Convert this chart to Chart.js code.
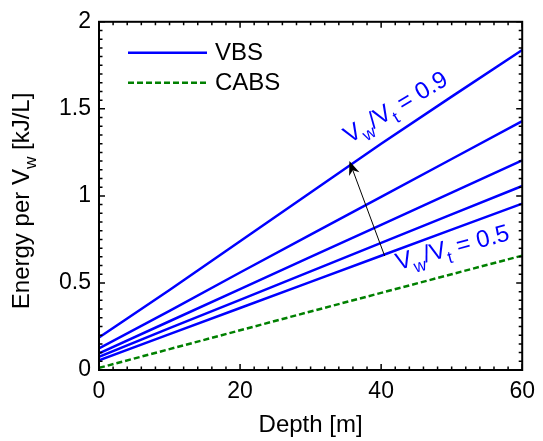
<!DOCTYPE html>
<html>
<head>
<meta charset="utf-8">
<script src="https://cdn.jsdelivr.net/npm/chart.js@4/dist/chart.umd.min.js"></script>
<style>
  body { margin: 0; background: #fff; }
  canvas { display: block; }
</style>
</head>
<body>
<canvas id="myChart" width="543" height="441"></canvas>
<script>
// values
var depth = [0, 10, 20, 30, 40, 50, 60]
var vbs05 = [0.056, 0.206, 0.356, 0.506, 0.656, 0.806, 0.956]
var vbs06 = [0.076, 0.240, 0.403, 0.567, 0.730, 0.894, 1.057]
var vbs07 = [0.095, 0.280, 0.465, 0.650, 0.834, 1.019, 1.204]
var vbs08 = [0.124, 0.340, 0.560, 0.777, 0.994, 1.212, 1.429]
var vbs09 = [0.187, 0.460, 0.740, 1.020, 1.300, 1.570, 1.838]
var cabs = [0.012, 0.120, 0.228, 0.336, 0.443, 0.550, 0.657]

var xTickValues = [0, 20, 40, 60]
var yTickValues = [0, 0.5, 1, 1.5, 2]
var legendNames = ['VBS', 'CABS']

// arrow and ratio labels, in data units
var arrowFrom = [40.5, 0.655]
var arrowTo = [35.5, 1.2]
var label09 = { at: [35.5, 1.30], value: '0.9', angle: -31 }
var label05 = { at: [42.4, 0.575], value: '0.5', angle: -15 }

var fam = "'Liberation Sans', Arial, Helvetica, sans-serif"
var blue = '#0000ff'
var green = '#008000'

function toPoints(ys) {
    var pts = []
    for (var i = 0; i < depth.length; i++) {
        pts.push({ x: depth[i], y: ys[i] })
    }
    return pts
}

function vbsSet(ys) {
    return { label: 'VBS', data: toPoints(ys), borderColor: blue, borderWidth: 2.5,
        pointRadius: 0, tension: 0, fill: false }
}

// draws text made of [string, isSubscript] parts
function richWidth(ctx, parts, size) {
    var w = 0
    parts.forEach(function (p) {
        ctx.font = (p[1] ? size * 0.72 : size) + 'px ' + fam
        w += ctx.measureText(p[0]).width
    })
    return w
}

function drawRich(ctx, parts, x, y, size, center) {
    var cx = center ? x - richWidth(ctx, parts, size) / 2 : x
    ctx.textAlign = 'left'
    ctx.textBaseline = 'alphabetic'
    parts.forEach(function (p) {
        ctx.font = (p[1] ? size * 0.72 : size) + 'px ' + fam
        ctx.fillText(p[0], cx, y + (p[1] ? size * 0.3 : 0))
        cx += ctx.measureText(p[0]).width
    })
}

var matlabDecor = {
    id: 'matlabDecor',
    afterDraw: function (chart) {
        var ctx = chart.ctx
        var a = chart.chartArea
        var xs = chart.scales.x
        var ys = chart.scales.y
        ctx.save()

        // inward ticks on all four sides
        ctx.strokeStyle = '#000'
        ctx.lineWidth = 1.5
        ctx.beginPath()
        for (var i = 0; i <= 30; i++) {
            var px = xs.getPixelForValue(i * 2)
            var len = i % 10 === 0 ? 6 : 3.5
            ctx.moveTo(px, a.bottom); ctx.lineTo(px, a.bottom - len)
            ctx.moveTo(px, a.top); ctx.lineTo(px, a.top + len)
        }
        for (var j = 0; j <= 40; j++) {
            var py = ys.getPixelForValue(j * 0.05)
            var len2 = j % 10 === 0 ? 6 : 3.5
            ctx.moveTo(a.left, py); ctx.lineTo(a.left + len2, py)
            ctx.moveTo(a.right, py); ctx.lineTo(a.right - len2, py)
        }
        ctx.stroke()

        // box
        ctx.lineWidth = 2
        ctx.strokeRect(a.left, a.top, a.right - a.left, a.bottom - a.top)

        // legend
        var sets = [chart.data.datasets[0], chart.data.datasets[5]]
        for (var k = 0; k < sets.length; k++) {
            var ly = a.top + 31 + k * 30
            ctx.beginPath()
            ctx.strokeStyle = sets[k].borderColor
            ctx.lineWidth = 2.5
            ctx.setLineDash(sets[k].borderDash || [])
            ctx.moveTo(a.left + 29, ly)
            ctx.lineTo(a.left + 108, ly)
            ctx.stroke()
            ctx.setLineDash([])
            ctx.fillStyle = '#000'
            ctx.font = '24px ' + fam
            ctx.textAlign = 'left'
            ctx.textBaseline = 'middle'
            ctx.fillText(legendNames[k], a.left + 116, ly + 1)
        }

        // ratio labels
        ctx.fillStyle = blue
        ;[label09, label05].forEach(function (lb) {
            ctx.save()
            ctx.translate(xs.getPixelForValue(lb.at[0]), ys.getPixelForValue(lb.at[1]))
            ctx.rotate(lb.angle * Math.PI / 180)
            drawRich(ctx, [['V', false], ['w', true], ['/V', false], ['t', true], [' = ' + lb.value, false]], 0, 0, 24, false)
            ctx.restore()
        })

        // arrow
        var x0 = xs.getPixelForValue(arrowFrom[0]), y0 = ys.getPixelForValue(arrowFrom[1])
        var x1 = xs.getPixelForValue(arrowTo[0]), y1 = ys.getPixelForValue(arrowTo[1])
        var ang = Math.atan2(y1 - y0, x1 - x0)
        var hl = 14, hw = 5.5
        ctx.strokeStyle = '#000'
        ctx.fillStyle = '#000'
        ctx.lineWidth = 1
        ctx.beginPath()
        ctx.moveTo(x0, y0)
        ctx.lineTo(x1 - Math.cos(ang) * hl * 0.7, y1 - Math.sin(ang) * hl * 0.7)
        ctx.stroke()
        ctx.beginPath()
        ctx.moveTo(x1, y1)
        ctx.lineTo(x1 - Math.cos(ang) * hl - Math.sin(ang) * hw, y1 - Math.sin(ang) * hl + Math.cos(ang) * hw)
        ctx.lineTo(x1 - Math.cos(ang) * hl * 0.7, y1 - Math.sin(ang) * hl * 0.7)
        ctx.lineTo(x1 - Math.cos(ang) * hl + Math.sin(ang) * hw, y1 - Math.sin(ang) * hl - Math.cos(ang) * hw)
        ctx.closePath()
        ctx.fill()

        // y axis title with subscript
        ctx.fillStyle = '#000'
        ctx.save()
        ctx.translate(29, (a.top + a.bottom) / 2 + 5)
        ctx.rotate(-Math.PI / 2)
        drawRich(ctx, [['Energy per V', false], ['w', true], [' [kJ/L]', false]], 0, 0, 24, true)
        ctx.restore()

        ctx.restore()
    }
}

let myChart = document.getElementById('myChart').getContext('2d')

var energyChart = new Chart(myChart, {
    type: 'line',
    data: {
        datasets: [
            vbsSet(vbs05),
            vbsSet(vbs06),
            vbsSet(vbs07),
            vbsSet(vbs08),
            vbsSet(vbs09),
            { label: 'CABS', data: toPoints(cabs), borderColor: green, borderWidth: 2.5,
                borderDash: [6, 3], pointRadius: 0, tension: 0, fill: false }
        ]
    },
    options: {
        responsive: false,
        animation: false,
        devicePixelRatio: 1,
        layout: { padding: { left: 0, right: 16, top: 20, bottom: 0 } },
        plugins: { legend: { display: false }, tooltip: { enabled: false } },
        scales: {
            x: {
                type: 'linear', min: 0, max: 60,
                afterBuildTicks: function (s) { s.ticks = xTickValues.map(function (v) { return { value: v } }) },
                afterFit: function (s) { s.height = 71 },
                grid: { display: false, drawTicks: false },
                border: { display: false },
                ticks: { color: '#000', font: { family: fam, size: 23 }, padding: 8, maxRotation: 0,
                    callback: function (v) { return String(v) } },
                title: { display: true, text: 'Depth [m]', color: '#000',
                    font: { family: fam, size: 24 }, padding: { top: 0, bottom: 1 } }
            },
            y: {
                type: 'linear', min: 0, max: 2,
                afterBuildTicks: function (s) { s.ticks = yTickValues.map(function (v) { return { value: v } }) },
                afterFit: function (s) { s.width = 99 },
                grid: { display: false, drawTicks: false },
                border: { display: false },
                ticks: { color: '#000', font: { family: fam, size: 23 }, padding: 8,
                    callback: function (v) { return String(v) } }
            }
        }
    },
    plugins: [matlabDecor]
})
</script>
</body>
</html>
